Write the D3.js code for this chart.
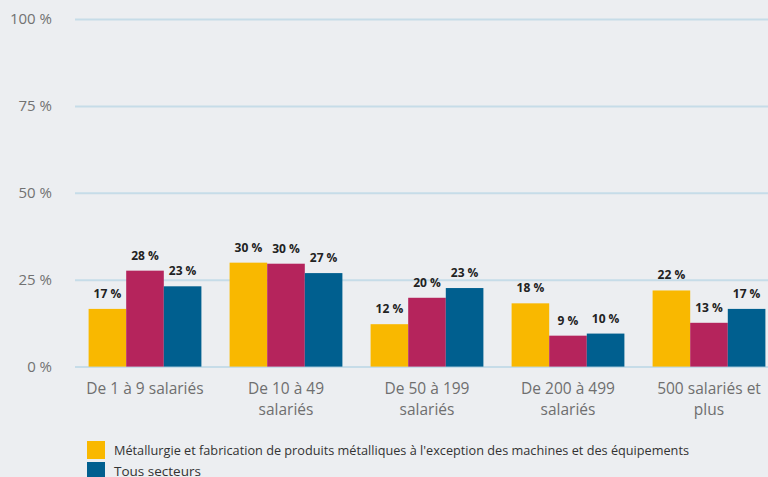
<!DOCTYPE html>
<html><head><meta charset="utf-8">
<script src="https://cdn.jsdelivr.net/npm/d3@7"></script>
<style>html,body{margin:0;padding:0;background:#eceef1;overflow:hidden}svg{display:block}</style>
</head><body><svg id="c" width="768" height="477"></svg>
<script>
const categories = [["De 1 à 9 salariés"],["De 10 à 49","salariés"],["De 50 à 199","salariés"],["De 200 à 499","salariés"],["500 salariés et","plus"]];
const seriesNames = ["Métallurgie et fabrication de produits métalliques à l'exception des machines et des équipements","Série 2","Tous secteurs"];
const metallurgie = [16.6, 29.9, 12.2, 18.2, 21.9];
const serie2 = [27.6, 29.6, 19.8, 8.9, 12.6];
const tousSecteurs = [23.1, 26.9, 22.6, 9.5, 16.6];
const yTicks = [0, 25, 50, 75, 100];
const colors = ["#f9b800", "#b5245c", "#005f8f"];
const legendItems = [0, 2];

const svg = d3.select("#c");
const series = [metallurgie, serie2, tousSecteurs];
const x0 = d3.scaleBand().domain(d3.range(categories.length)).range([74.5, 779.5]).paddingInner(0.2).paddingOuter(0.1);
const x1 = d3.scaleBand().domain(d3.range(series.length)).range([0, x0.bandwidth()]);
const y = d3.scaleLinear().domain([0, 100]).range([366.6, 19]);

const yAxis = svg.append("g").attr("transform", "translate(75,0)")
  .call(d3.axisLeft(y).tickValues(yTicks).tickSize(-700).tickFormat(d => d + " %"));
yAxis.select(".domain").remove();
yAxis.selectAll(".tick line").attr("stroke", "#c6dce8").attr("stroke-width", 2);
yAxis.selectAll(".tick text").attr("x", -23).attr("fill", "#727272")
  .style("font-family", "'Open Sans'").style("font-size", "15px");

const g = svg.append("g");
categories.forEach((c, i) => {
  series.forEach((s, j) => {
    g.append("rect").attr("x", x0(i) + x1(j)).attr("width", x1.bandwidth())
      .attr("y", y(s[i])).attr("height", y(0) - y(s[i])).attr("fill", colors[j]);
    g.append("text").attr("x", x0(i) + x1(j) + x1.bandwidth() / 2).attr("y", y(s[i]) - 11)
      .attr("text-anchor", "middle").attr("fill", "#222")
      .style("font-family", "'Open Sans'").style("font-weight", "bold").style("font-size", "12px")
      .text(Math.round(s[i]) + " %");
  });
  const t = g.append("text").attr("text-anchor", "middle").attr("fill", "#6f6f6f")
    .style("font-family", "'Open Sans'").style("font-size", "15.5px");
  c.forEach((line, k) => t.append("tspan").attr("x", x0(i) + x0.bandwidth() / 2).attr("y", 394 + k * 20.5).text(line));
});

const lg = svg.append("g");
legendItems.forEach((si, k) => {
  lg.append("rect").attr("x", 87).attr("y", 441 + k * 21).attr("width", 18).attr("height", 18).attr("fill", colors[si]);
  const tx = lg.append("text").attr("x", 114).attr("y", 455 + k * 21).attr("fill", "#333")
    .style("font-family", "'Open Sans'").style("font-size", "13.5px").text(seriesNames[si]);
  if (k === 0) tx.attr("textLength", 575).attr("lengthAdjust", "spacingAndGlyphs");
});
</script></body></html>
